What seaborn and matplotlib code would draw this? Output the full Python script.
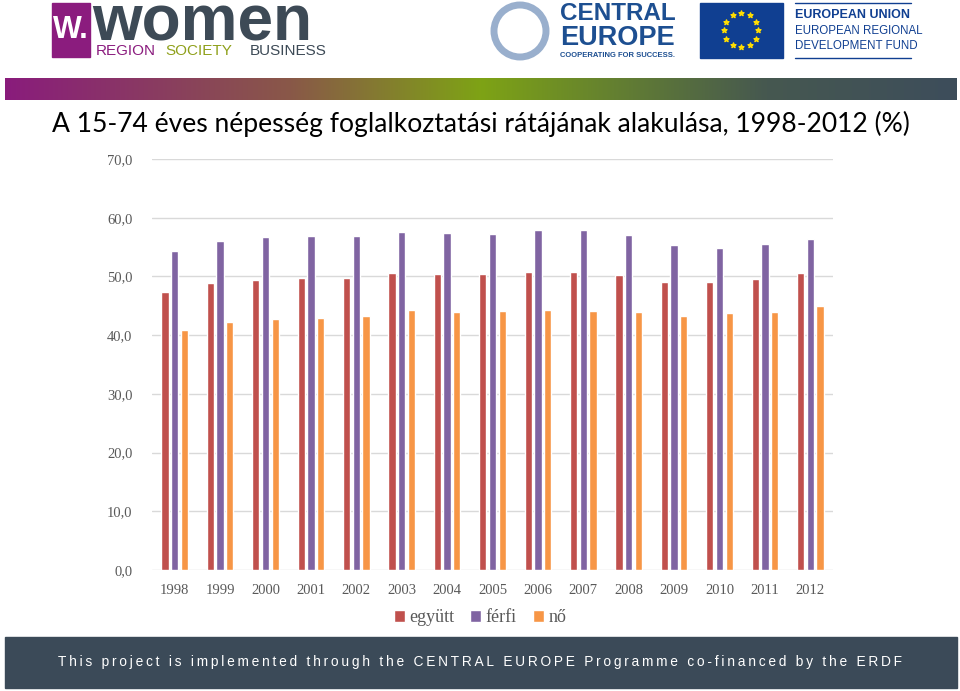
import numpy as np
import pandas as pd
import seaborn as sb
import matplotlib.pyplot as plt
from matplotlib.patches import Rectangle, Circle

years = ["1998", "1999", "2000", "2001", "2002", "2003", "2004", "2005",
         "2006", "2007", "2008", "2009", "2010", "2011", "2012"]
egyutt = [47.3, 48.8, 49.4, 49.7, 49.7, 50.5, 50.4, 50.4, 50.8, 50.7, 50.2, 49.0, 49.1, 49.5, 50.5]
ferfi = [54.3, 56.0, 56.7, 56.9, 56.9, 57.5, 57.4, 57.3, 57.9, 57.9, 57.1, 55.4, 54.8, 55.6, 56.4]
no = [40.8, 42.2, 42.8, 43.0, 43.2, 44.2, 44.0, 44.1, 44.3, 44.1, 43.9, 43.3, 43.8, 43.9, 45.0]
series = ["együtt", "férfi", "nő"]
colors = {"együtt": "#C0504D", "férfi": "#8064A2", "nő": "#F79646"}
yticks = [0, 10, 20, 30, 40, 50, 60, 70]

title = "A 15-74 éves népesség foglalkoztatási rátájának alakulása, 1998-2012 (%)"
footer = "This project is implemented through the CENTRAL EUROPE Programme co-financed by the ERDF"

df = pd.DataFrame({"year": years * 3,
                   "value": egyutt + ferfi + no,
                   "series": [s for s in series for _ in years]})

W, H = 960, 691
fig = plt.figure(figsize=(W / 100, H / 100), dpi=100)
sb.set_style("white")
plt.rcParams['font.family'] = ['Liberation Serif', 'DejaVu Sans']


def px(x0, y0, x1, y1):
    # pixel box -> figure fraction [left, bottom, width, height]
    return [x0 / W, 1 - y1 / H, (x1 - x0) / W, (y1 - y0) / H]


# --- header logos (rough drawing) ---
deco = fig.add_axes([0, 0, 1, 1])
deco.set_xlim(0, W)
deco.set_ylim(H, 0)
deco.axis("off")
deco.set_zorder(-1)

deco.add_patch(Rectangle((52, 3), 38, 54, color="#8B1C7E"))
deco.text(71, 30, "W.", color="white", fontsize=22, fontweight="bold",
          family="Liberation Sans", ha="center", va="center")
deco.text(92, 40, "women", color="#3D4A56", fontsize=46, fontweight="bold",
          family="Liberation Sans", ha="left", va="baseline")
deco.text(96, 51, "REGION", color="#8B1C7E", fontsize=11, family="Liberation Sans", va="center")
deco.text(165, 51, "SOCIETY", color="#8FA01A", fontsize=11, family="Liberation Sans", va="center")
deco.text(250, 51, "BUSINESS", color="#3D4A56", fontsize=11, family="Liberation Sans", va="center")

deco.add_patch(Circle((520, 31), 26, fill=False, ec="#1D4F91", lw=5, alpha=0.45))
deco.text(560, 13, "CENTRAL", color="#1D4F91", fontsize=17.5, fontweight="bold",
          family="Liberation Sans", va="center")
deco.text(560, 38, "EUROPE", color="#1D4F91", fontsize=19.5, fontweight="bold",
          family="Liberation Sans", va="center")
deco.text(560, 55, "COOPERATING FOR SUCCESS.", color="#1D4F91", fontsize=5.5,
          fontweight="bold", family="Liberation Sans", va="center")

deco.add_patch(Rectangle((700, 3), 83, 55, color="#103F91"))
ang = np.linspace(0, 2 * np.pi, 13)[:-1]
deco.scatter(741 + 17 * np.cos(ang), 30 + 17 * np.sin(ang), marker="*", s=14, color="#FFDD00")
deco.plot([795, 911], [3, 3], color="#103F91", lw=1)
deco.plot([795, 911], [58, 58], color="#103F91", lw=1)
deco.text(795, 15, "EUROPEAN UNION", color="#103F91", fontsize=9, fontweight="bold",
          family="Liberation Sans", va="center")
deco.text(795, 31, "EUROPEAN REGIONAL", color="#103F91", fontsize=8.3,
          family="Liberation Sans", va="center")
deco.text(795, 46, "DEVELOPMENT FUND", color="#103F91", fontsize=8.3,
          family="Liberation Sans", va="center")

# gradient bar
grad_colors = np.array([[138, 28, 124], [137, 88, 72], [126, 163, 21], [70, 88, 80], [61, 77, 91]]) / 255
pos = np.array([0, 0.3, 0.5, 0.8, 1.0])
t = np.linspace(0, 1, 400)
grad = np.stack([np.interp(t, pos, grad_colors[:, i]) for i in range(3)], axis=-1)[None, :, :]
deco.imshow(grad, extent=(5, 957, 100, 78), aspect="auto")

# footer
deco.add_patch(Rectangle((5, 637), 952, 51, color="#3B4A58"))
deco.text(480, 662, "\u2009".join(footer), color="white", fontsize=9.9,
          family=["Liberation Sans", "DejaVu Sans"], ha="center", va="center")

deco.text(52, 124, title, fontsize=19.1, family="Lato", color="black", va="center", ha="left")

# --- chart ---
ax = fig.add_axes(px(152, 159, 833, 570))
sb.barplot(data=df, x="year", y="value", hue="series", palette=colors,
           width=0.64, gap=0.25, ax=ax, saturation=1)
ax.set_ylim(0, 70)
ax.set_xlim(-0.5, len(years) - 0.5)
ax.set_yticks(yticks)
ax.set_yticklabels([f"{v:.1f}".replace(".", ",") for v in yticks])
ax.grid(axis="y", color="#D9D9D9", lw=1)
ax.set_axisbelow(True)
for s in ax.spines.values():
    s.set_visible(False)
ax.tick_params(axis="y", length=0, pad=14, labelsize=10.5, labelcolor="#595959")
ax.tick_params(axis="x", length=0, pad=10, labelsize=10.5, labelcolor="#595959")
ax.set_xlabel("")
ax.set_ylabel("")

handles, labels = ax.get_legend_handles_labels()
ax.legend(handles, labels, loc="center", bbox_to_anchor=(0.5, 1 - 618 / H),
          bbox_transform=fig.transFigure, ncol=3, frameon=False,
          handlelength=0.6, handleheight=0.6, handletextpad=0.25, columnspacing=0.9,
          prop={"family": "Liberation Serif", "size": 13}, labelcolor="#595959")

plt.savefig("out.png", dpi=100)
